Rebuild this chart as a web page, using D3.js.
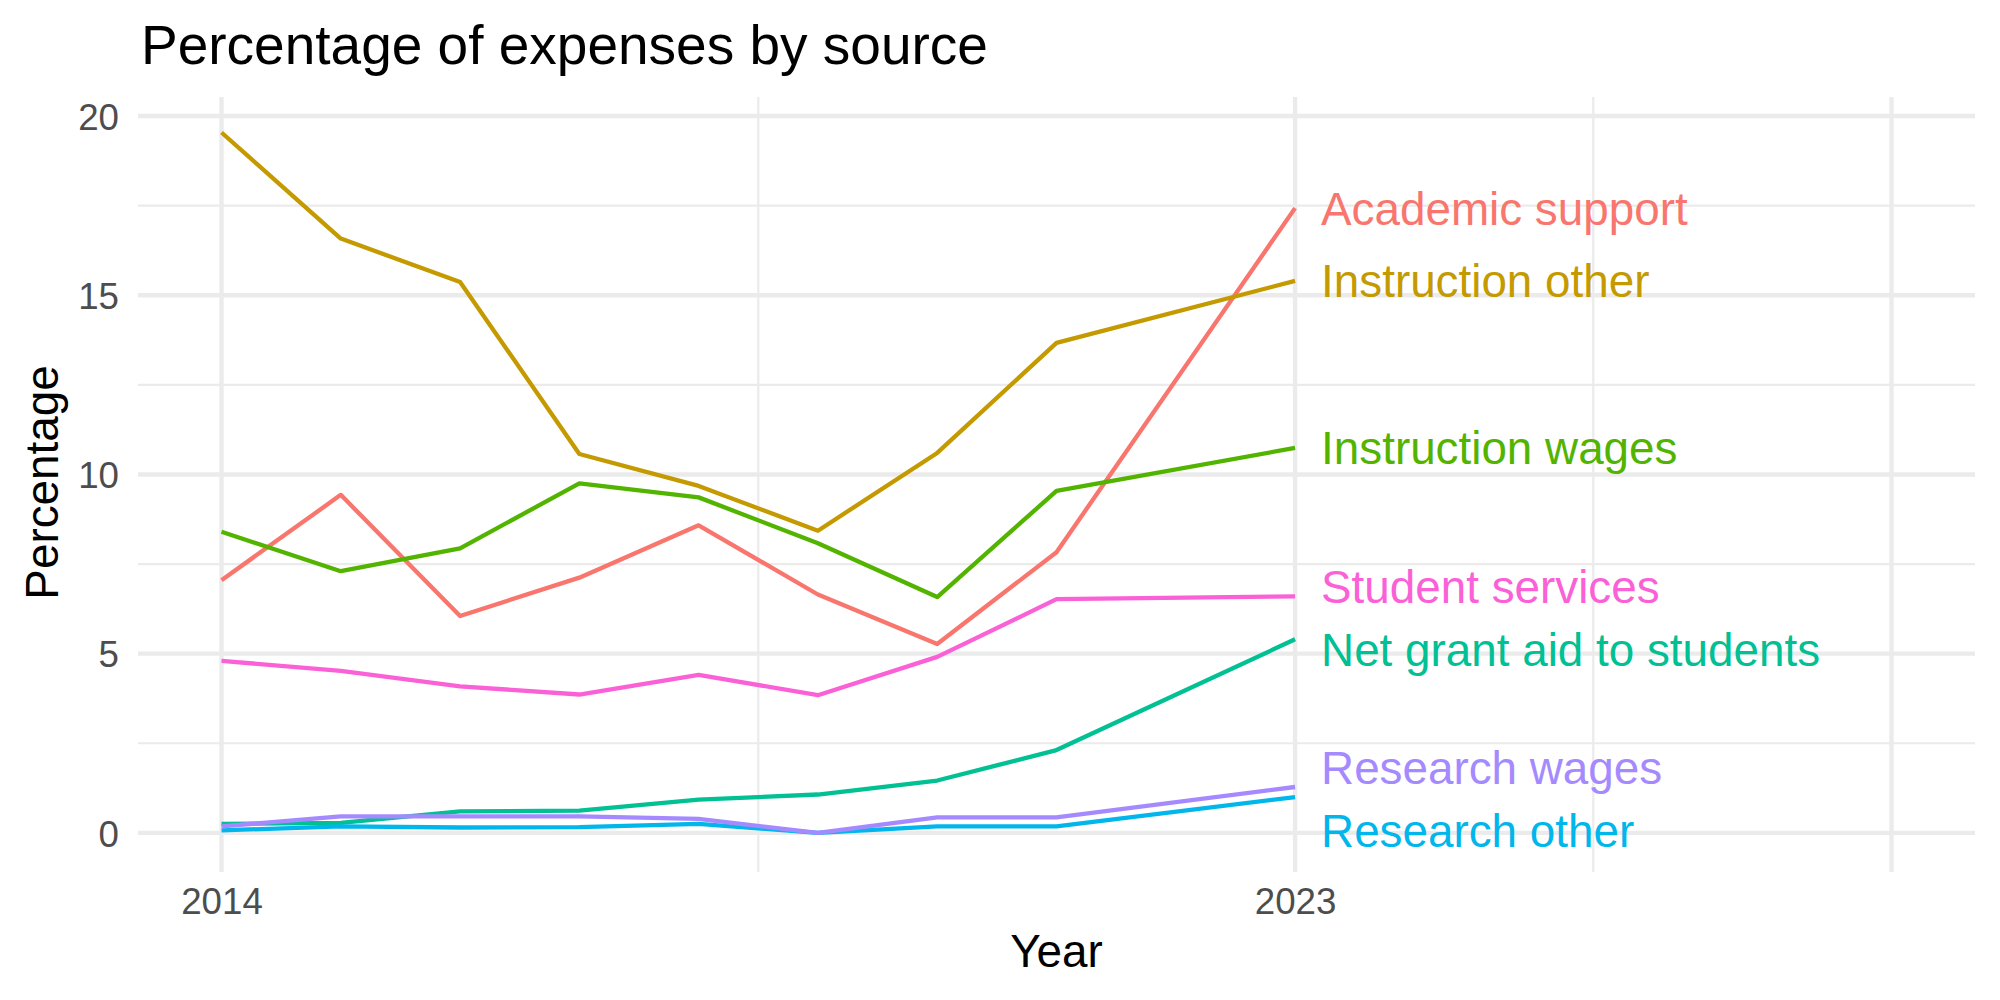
<!DOCTYPE html>
<html>
<head>
<meta charset="utf-8">
<script src="https://cdn.jsdelivr.net/npm/d3@7"></script>
<style>
  body { margin: 0; background: #fff; }
  svg { font-family: "Liberation Sans", Arial, sans-serif; }
</style>
</head>
<body>
<div id="graf"></div>
<script>
// data (2022 has no point)
const years = [2014, 2015, 2016, 2017, 2018, 2019, 2020, 2021, 2023];

const academicSupport = [7.05, 9.43, 6.05, 7.12, 8.58, 6.65, 5.27, 7.83, 17.43];
const instructionOther = [19.54, 16.58, 15.37, 10.57, 9.68, 8.43, 10.6, 13.67, 15.4];
const instructionWages = [8.4, 7.3, 7.94, 9.75, 9.36, 8.08, 6.58, 9.54, 10.74];
const netGrantAid = [0.25, 0.28, 0.6, 0.62, 0.93, 1.07, 1.46, 2.31, 5.4];
const researchOther = [0.07, 0.18, 0.15, 0.16, 0.25, 0.0, 0.18, 0.18, 1.0];
const researchWages = [0.18, 0.46, 0.46, 0.46, 0.39, 0.0, 0.43, 0.43, 1.28];
const studentServices = [4.8, 4.52, 4.09, 3.86, 4.41, 3.84, 4.91, 6.52, 6.6];

const sources = [
  "Academic support",
  "Instruction other",
  "Instruction wages",
  "Net grant aid to students",
  "Research other",
  "Research wages",
  "Student services",
];
const seriesValues = [
  academicSupport,
  instructionOther,
  instructionWages,
  netGrantAid,
  researchOther,
  researchWages,
  studentServices,
];
// where the end labels sit (repelled), in percentage units
const labelValues = [17.43, 15.4, 10.74, 5.1, 0.06, 1.81, 6.86];

const xMajor = [2014, 2023, 2028];
const xTickLabels = ["2014", "2023", ""];
const xMinor = [2018.5, 2025.5];
const yMajor = [0, 5, 10, 15, 20];
const yMinor = [2.5, 7.5, 12.5, 17.5];

const colores = ["#F8766D", "#C49A00", "#53B400", "#00C094", "#00B6EB", "#A58AFF", "#FB61D7"];

const ancho_total = 2000;
const alto_total = 1000;
const panel = { left: 138, right: 1975, top: 97, bottom: 868 };

const svg = d3
  .select("#graf")
  .append("svg")
  .attr("width", ancho_total)
  .attr("height", alto_total);

const x = d3.scaleLinear().domain([2013.3, 2028.7]).range([panel.left, panel.right]);
const y = d3.scaleLinear().domain([-0.98, 20.53]).range([panel.bottom, panel.top]);

const color = d3.scaleOrdinal().domain(sources).range(colores);

const grid = svg.append("g");

// minor grid
grid
  .selectAll(".ymin")
  .data(yMinor)
  .join("line")
  .attr("x1", panel.left)
  .attr("x2", panel.right)
  .attr("y1", d => y(d))
  .attr("y2", d => y(d))
  .attr("stroke", "#EBEBEB")
  .attr("stroke-width", 2.2);

grid
  .selectAll(".xmin")
  .data(xMinor)
  .join("line")
  .attr("x1", d => x(d))
  .attr("x2", d => x(d))
  .attr("y1", panel.top)
  .attr("y2", panel.bottom + 4)
  .attr("stroke", "#EBEBEB")
  .attr("stroke-width", 2.2);

// major grid
grid
  .append("g")
  .selectAll("line")
  .data(yMajor)
  .join("line")
  .attr("x1", panel.left)
  .attr("x2", panel.right)
  .attr("y1", d => y(d))
  .attr("y2", d => y(d))
  .attr("stroke", "#EBEBEB")
  .attr("stroke-width", 4.4);

grid
  .append("g")
  .selectAll("line")
  .data(xMajor)
  .join("line")
  .attr("x1", d => x(d))
  .attr("x2", d => x(d))
  .attr("y1", panel.top)
  .attr("y2", panel.bottom + 4)
  .attr("stroke", "#EBEBEB")
  .attr("stroke-width", 4.4);

// axes (text only, like theme_minimal)
const yAxisCall = d3.axisLeft(y).tickValues(yMajor).tickSize(0).tickPadding(0);
const yAxisGroup = svg
  .append("g")
  .attr("transform", `translate(119, 0)`)
  .call(yAxisCall);

const xAxisCall = d3
  .axisBottom(x)
  .tickValues(xMajor)
  .tickSize(0)
  .tickFormat((d, i) => xTickLabels[i]);
const xAxisGroup = svg
  .append("g")
  .attr("transform", `translate(0, 885)`)
  .call(xAxisCall);

[yAxisGroup, xAxisGroup].forEach(ax => {
  ax.select(".domain").remove();
  ax.selectAll("text")
    .attr("fill", "#4D4D4D")
    .style("font-size", "36.7px")
    .style("font-family", "'Liberation Sans', Arial, sans-serif");
});
yAxisGroup.selectAll("text").attr("dy", "0.36em");
xAxisGroup.selectAll("text").attr("dy", "0.72em");

// lines
const line = d3
  .line()
  .x((d, i) => x(years[i]))
  .y(d => y(d));

svg
  .append("g")
  .selectAll("path")
  .data(seriesValues)
  .join("path")
  .attr("d", d => line(d))
  .attr("fill", "none")
  .attr("stroke", (d, i) => color(sources[i]))
  .attr("stroke-width", 4.3)
  .attr("stroke-linejoin", "round");

// end labels
svg
  .append("g")
  .selectAll("text")
  .data(sources)
  .join("text")
  .attr("x", x(2023) + 26)
  .attr("y", (d, i) => y(labelValues[i]) + 16.4)
  .attr("fill", d => color(d))
  .style("font-size", "45.8px")
  .text(d => d);

// titles
svg
  .append("text")
  .attr("x", 141)
  .attr("y", 64)
  .style("font-size", "55px")
  .attr("fill", "#000")
  .text("Percentage of expenses by source");

svg
  .append("text")
  .attr("x", (panel.left + panel.right) / 2)
  .attr("y", 967)
  .attr("text-anchor", "middle")
  .style("font-size", "45.8px")
  .attr("fill", "#000")
  .text("Year");

svg
  .append("text")
  .attr("transform", `translate(58, ${(panel.top + panel.bottom) / 2}) rotate(-90)`)
  .attr("text-anchor", "middle")
  .style("font-size", "45.8px")
  .attr("fill", "#000")
  .text("Percentage");
</script>
</body>
</html>
